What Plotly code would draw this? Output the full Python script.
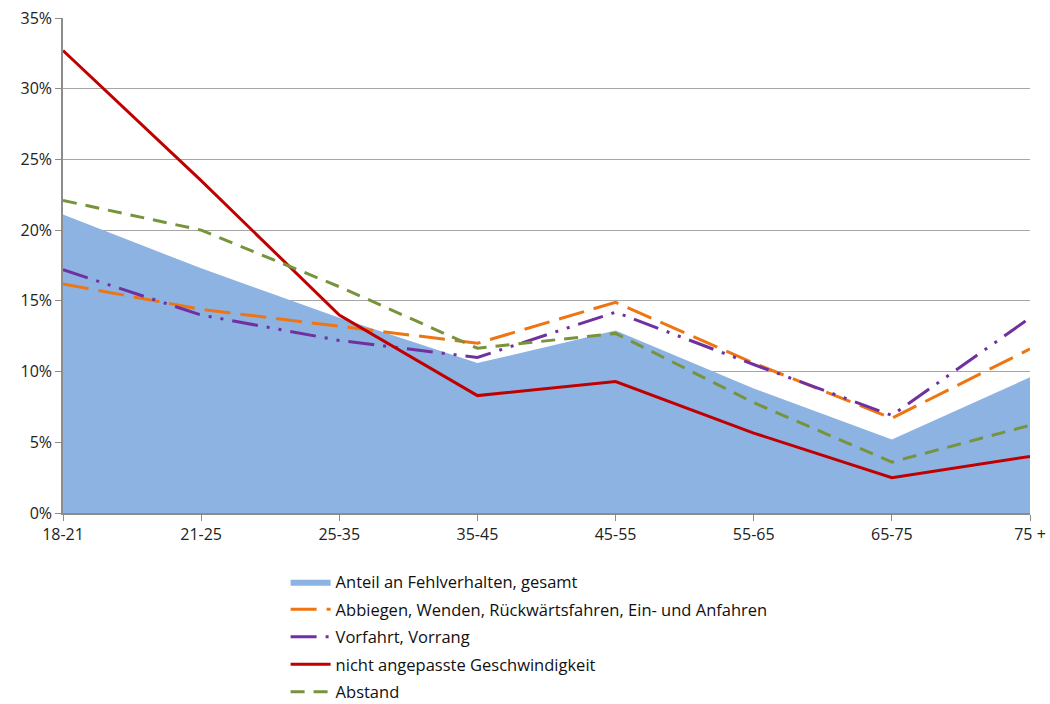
import plotly.graph_objects as go

# Age groups on the x axis
age_groups = ["18-21", "21-25", "25-35", "35-45", "45-55", "55-65", "65-75", "75 +"]

# Shares per age group (fractions)
gesamt = [0.211, 0.173, 0.138, 0.106, 0.129, 0.088, 0.052, 0.096]
abbiegen = [0.162, 0.144, 0.132, 0.120, 0.149, 0.106, 0.067, 0.116]
vorfahrt = [0.172, 0.140, 0.122, 0.110, 0.142, 0.105, 0.069, 0.138]
geschwindigkeit = [0.327, 0.235, 0.140, 0.083, 0.093, 0.0565, 0.025, 0.040]
abstand = [0.221, 0.200, 0.160, 0.1165, 0.127, 0.078, 0.036, 0.062]

y_ticks = [0, 0.05, 0.10, 0.15, 0.20, 0.25, 0.30, 0.35]
y_labels = ["0%", "5%", "10%", "15%", "20%", "25%", "30%", "35%"]

FONT = "Open Sans, Lato, sans-serif"

fig = go.Figure()

fig.add_trace(go.Scatter(
    x=age_groups, y=gesamt, name="Anteil an Fehlverhalten, gesamt",
    mode="lines", fill="tozeroy", fillcolor="#8DB3E2",
    line=dict(width=0, color="#8DB3E2"), legendgroup="a",
))
fig.add_trace(go.Scatter(
    x=age_groups, y=abbiegen,
    name="Abbiegen, Wenden, Rückwärtsfahren, Ein- und Anfahren",
    mode="lines", line=dict(color="#EE7511", width=3, dash="26px,10px"),
    legendgroup="b",
))
fig.add_trace(go.Scatter(
    x=age_groups, y=vorfahrt, name="Vorfahrt, Vorrang",
    mode="lines", line=dict(color="#7030A0", width=3, dash="26px,9px,3px,9px,3px,9px"),
    legendgroup="c",
))
fig.add_trace(go.Scatter(
    x=age_groups, y=geschwindigkeit, name="nicht angepasste Geschwindigkeit",
    mode="lines", line=dict(color="#C00000", width=3),
    legendgroup="d",
))
fig.add_trace(go.Scatter(
    x=age_groups, y=abstand, name="Abstand",
    mode="lines", line=dict(color="#77933C", width=3, dash="14px,9px"),
    legendgroup="e",
))

fig.update_layout(
    width=1050, height=704,
    margin=dict(l=63, r=20, t=18, b=191, autoexpand=False),
    paper_bgcolor="white", plot_bgcolor="white",
    font=dict(family=FONT, size=16, color="#222222"),
    legend=dict(
        xref="container", yref="container",
        x=0.272, y=0.198, xanchor="left", yanchor="top",
        traceorder="grouped", tracegroupgap=3, itemwidth=40,
        font=dict(family=FONT, size=16.5, color="#111111"),
        bgcolor="rgba(0,0,0,0)",
    ),
    xaxis=dict(
        type="category", range=[0, 7], automargin=False,
        showgrid=False, showline=True, linecolor="#8C8C8C", linewidth=1.5,
        ticks="outside", ticklen=6, tickcolor="#8C8C8C",
        tickfont=dict(family=FONT, size=16, color="#222222"),
    ),
    yaxis=dict(
        range=[0, 0.35], tickvals=y_ticks, ticktext=y_labels, automargin=False,
        showgrid=True, gridcolor="#A6A6A6", gridwidth=1.2,
        showline=True, linecolor="#8C8C8C", linewidth=1.5,
        ticks="outside", ticklen=6, tickcolor="#8C8C8C",
        tickfont=dict(family=FONT, size=16, color="#222222"),
        zeroline=False,
    ),
)

fig.write_html("out.html")
